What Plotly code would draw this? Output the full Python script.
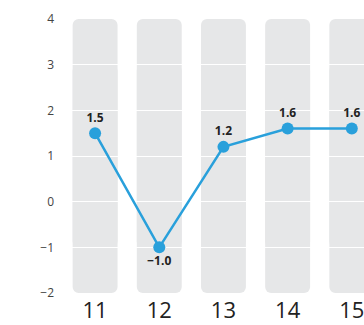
import plotly.graph_objects as go

categories = ["11", "12", "13", "14", "15"]
values = [1.5, -1.0, 1.2, 1.6, 1.6]
value_labels = ["1.5", "\u22121.0", "1.2", "1.6", "1.6"]
y_ticks = [-2, -1, 0, 1, 2, 3, 4]
y_tick_labels = ["\u22122", "\u22121", "0", "1", "2", "3", "4"]

y_min, y_max = -2, 4
line_color = "#29a0db"
band_color = "#e6e7e8"

n = len(categories)
band_base = [y_min + 1] * n
band_len = [y_max - (y_min + 1)] * n

fig = go.Figure()

# Background bands: same bar on a normal axis (rounded top) and on a mirrored
# overlaying axis (rounded bottom); together they span the full axis range.
for ax in ("y", "y3"):
    fig.add_trace(go.Bar(x=categories, y=band_len, base=band_base,
                         marker=dict(color=band_color, line=dict(width=0)), width=0.7,
                         hoverinfo="skip", showlegend=False, xaxis="x", yaxis=ax))

pos = ["top center" if v >= 0 else "bottom center" for v in values]
fig.add_trace(go.Scatter(x=categories, y=values, mode="lines+markers+text",
                         text=value_labels, textposition=pos,
                         textfont=dict(family="Open Sans", size=12, color="#222222", weight="bold"),
                         line=dict(color=line_color, width=2.5),
                         marker=dict(color=line_color, size=12),
                         showlegend=False, xaxis="x2", yaxis="y2"))

xr = [-0.5, 4.19]
hidden = dict(showgrid=False, showticklabels=False, zeroline=False, showline=False, ticks="")
fig.update_layout(
    width=364, height=325,
    margin=dict(l=63, r=0, t=19, b=32, autoexpand=False),
    paper_bgcolor="white", plot_bgcolor="rgba(0,0,0,0)",
    barmode="overlay", barcornerradius=6,
    xaxis=dict(type="category", range=xr, **hidden),
    yaxis=dict(range=[y_min, y_max], **hidden),
    yaxis3=dict(range=[y_max, y_min], overlaying="y", **hidden),
    xaxis2=dict(type="category", range=xr, anchor="y2", showgrid=False, zeroline=False,
                showline=False, ticks="", ticklabelstandoff=2, automargin=False,
                tickfont=dict(family="Open Sans", size=22, color="#222222")),
    yaxis2=dict(range=[y_min, y_max], anchor="x2", tickvals=y_ticks, ticktext=y_tick_labels,
                showgrid=True, gridcolor="white", gridwidth=1, zeroline=False, showline=False,
                ticks="", ticklabelstandoff=8, automargin=False,
                tickfont=dict(family="Open Sans", size=12, color="#444444")),
)

fig.write_html("out.html")
